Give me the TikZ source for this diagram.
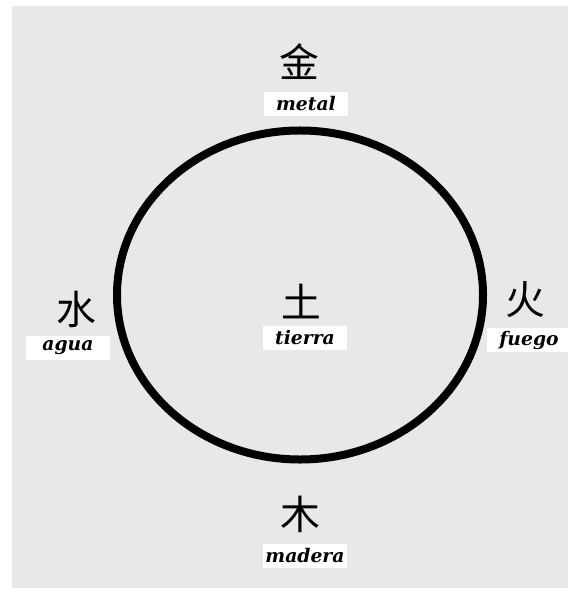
\documentclass[tikz,border=0pt]{standalone}
\usepackage{fontspec}
\setmainfont{DejaVu Serif}
\newfontfamily\cjk{Noto Sans CJK SC}
\usepackage{xcolor}
\usepackage{tikz}
\usetikzlibrary{positioning,shapes.geometric}
\definecolor{paper}{gray}{0.91}

\begin{document}
\begin{tikzpicture}[
  x=0.03cm, y=-0.03cm,
  glyph/.style={font=\cjk\fontsize{34}{34}\selectfont, inner sep=0pt},
  tag/.style={fill=white, inner sep=0pt, minimum width=2.5cm, minimum height=0.7cm,
    font=\fontsize{16}{16}\selectfont\bfseries\itshape},
  ring/.style={draw, ellipse, line width=0.24cm, minimum width=10.98cm, minimum height=9.87cm, inner sep=0pt},
]
\useasboundingbox (0,0) rectangle (574,595);
\fill[paper] (12,6) rectangle (568,588);

\node[ring] (cycle) at (300,295) {};

\node[glyph] (jin) at (299,62) {金};
\node[tag] (metal) at (306,104) {metal};

\node[glyph] (shui) at (76,309) {水};
\node[tag] (agua) at (68,348) {agua};

\node[glyph] (tu) at (301,302) {土};
\node[tag] (tierra) at (305,338) {tierra};

\node[glyph] (huo) at (525,300) {火};
\node[tag] (fuego) at (529,340) {fuego};

\node[glyph] (mu) at (300,514) {木};
\node[tag] (madera) at (305,556) {madera};
\end{tikzpicture}
\end{document}
